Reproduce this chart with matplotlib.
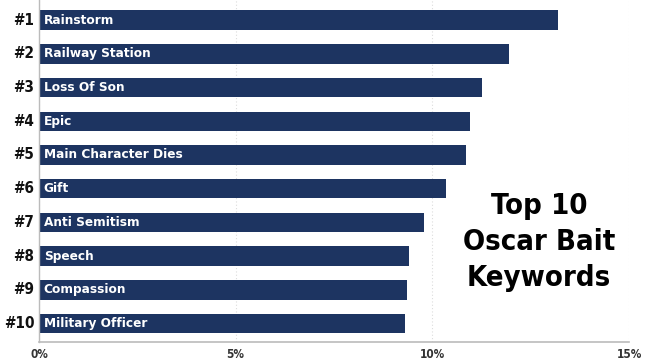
import matplotlib.pyplot as plt

ranks = ["#1", "#2", "#3", "#4", "#5", "#6", "#7", "#8", "#9", "#10"]
keywords = ["Rainstorm", "Railway Station", "Loss Of Son", "Epic", "Main Character Dies",
            "Gift", "Anti Semitism", "Speech", "Compassion", "Military Officer"]
shares = [13.2, 11.95, 11.25, 10.95, 10.85, 10.35, 9.8, 9.4, 9.35, 9.3]
xticks = [0, 5, 10, 15]
xtick_labels = ["0%", "5%", "10%", "15%"]

navy = "#1d3461"
font = "DejaVu Sans"

fig = plt.figure(figsize=(6.45, 3.63), dpi=100)
ax = fig.add_axes([39 / 645, 21 / 363, 590 / 645, 342 / 363])

y = list(range(len(keywords)))
ax.barh(y, shares, height=0.58, color=navy, zorder=2)
ax.set_ylim(len(keywords) - 0.45, -0.6)
ax.set_xlim(0, 15)

for i, (r, k) in enumerate(zip(ranks, keywords)):
    ax.text(0.12, i, k, color="white", fontsize=9.7, fontweight="bold",
            fontstretch="condensed", family=font, va="center", ha="left", zorder=3)
    ax.text(-0.12, i, r, color="#111111", fontsize=11, fontweight="bold",
            fontstretch="condensed", family=font, va="center", ha="right")

ax.set_yticks([])
ax.set_xticks(xticks)
ax.set_xticklabels(xtick_labels, fontsize=8.5, fontweight="bold", family=font,
                   fontstretch="condensed", color="#333333")
ax.tick_params(axis="x", length=0, pad=4)
ax.grid(axis="x", linestyle=(0, (1, 2)), color="#dddddd", linewidth=0.8, zorder=0)

for s in ["top", "right"]:
    ax.spines[s].set_visible(False)
ax.spines["left"].set_color("#bbbbbb")
ax.spines["bottom"].set_color("#bbbbbb")
ax.spines["left"].set_linewidth(1)
ax.spines["bottom"].set_linewidth(1.2)

fig.text(539 / 645, 1 - 242 / 363, "Top 10\nOscar Bait\nKeywords", ha="center", va="center",
         fontsize=21, fontweight="bold", fontstretch="condensed", family=font,
         color="black", linespacing=1.38)

fig.savefig("out.png", dpi=100)
